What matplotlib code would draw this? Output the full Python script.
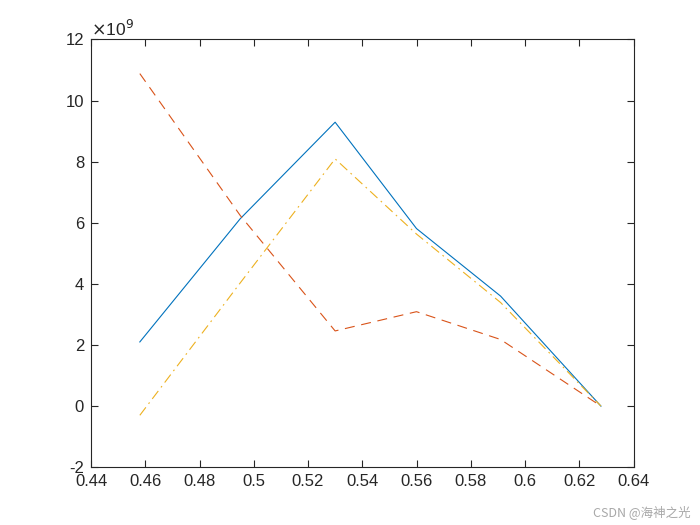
import numpy as np
import matplotlib
matplotlib.use("Agg")
import matplotlib.pyplot as plt

# values, y in units of 1e9
x = [0.458, 0.495, 0.530, 0.560, 0.591, 0.628]
y_blue = [2.10, 6.13, 9.29, 5.81, 3.60, 0.0]
y_red = [10.88, 6.24, 2.46, 3.09, 2.18, 0.0]
y_yellow = [-0.30, 4.03, 8.09, 5.63, 3.39, 0.0]

xticks = [0.44, 0.46, 0.48, 0.5, 0.52, 0.54, 0.56, 0.58, 0.6, 0.62, 0.64]
xticklabels = ["0.44", "0.46", "0.48", "0.5", "0.52", "0.54", "0.56", "0.58", "0.6", "0.62", "0.64"]
yticks = [-2, 0, 2, 4, 6, 8, 10, 12]

plt.rcParams['font.family'] = ['Liberation Sans', 'DejaVu Sans']
plt.rcParams['axes.unicode_minus'] = False

fig = plt.figure(figsize=(7, 5.25), dpi=100)
ax = fig.add_axes([0.13, 0.11, 0.775, 0.815])

ax.plot(x, y_blue, color="#0072BD", lw=0.8)
ax.plot(x, y_red, color="#D95319", lw=0.8, linestyle=(0, (9, 6)))
ax.plot(x, y_yellow, color="#EDB120", lw=0.8, linestyle=(0, (9, 4, 1.5, 4)))

ax.set_xlim(0.44, 0.64)
ax.set_ylim(-2, 12)
ax.set_xticks(xticks)
ax.set_xticklabels(xticklabels)
ax.set_yticks(yticks)

dark = "#262626"
for s in ax.spines.values():
    s.set_color(dark)
    s.set_linewidth(0.8)
ax.tick_params(direction="in", top=True, right=True, length=5, width=0.8,
               color=dark, labelcolor=dark, labelsize=12, pad=5)

ax.text(0.0, 1.002, r"$\times$10$^{9}$", transform=ax.transAxes, fontsize=12.5,
        color=dark, ha="left", va="bottom", math_fontfamily="dejavusans")

fig.text(0.987, 0.012, "CSDN @海神之光", ha="right", va="bottom", fontsize=9,
         color="#a8a8a8", family=['Noto Sans CJK SC', 'DejaVu Sans'])

fig.savefig("out.png", dpi=100, facecolor="white")
